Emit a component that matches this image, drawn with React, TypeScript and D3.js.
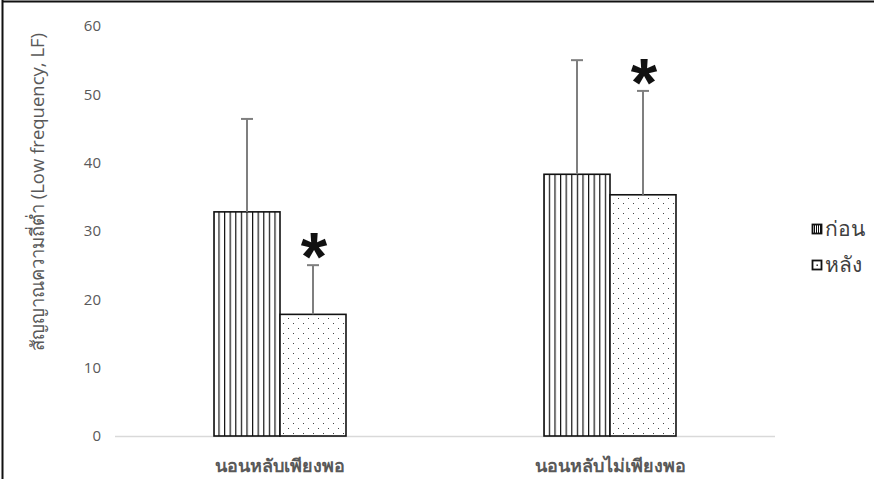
import * as d3 from 'd3';
import React, { useEffect, useRef } from 'react';

// values
const categories = ['นอนหลับเพียงพอ', 'นอนหลับไม่เพียงพอ'];
const seriesNames = ['ก่อน', 'หลัง'];
const beforeValues = [32.8, 38.3];
const afterValues = [17.8, 35.3];
const beforeErrors = [13.6, 16.7];
const afterErrors = [7.2, 15.2];
const significant = [true, true]; // asterisk on the "after" bar
const yTicks = [0, 10, 20, 30, 40, 50, 60];

const W = 874;
const H = 479;

export default function App() {
  const svgRef = useRef<SVGSVGElement>(null);

  useEffect(() => {
    if (!svgRef.current) return;
    const svg = d3.select(svgRef.current);
    svg.selectAll('*').remove();

    const plot = { left: 115, right: 775, top: 26, bottom: 436 };
    const font = "'Open Sans', 'DejaVu Sans', sans-serif";

    const x0 = d3.scaleBand().domain(categories).range([plot.left, plot.right]).paddingInner(0.6).paddingOuter(0.3);
    const x1 = d3.scaleBand().domain(seriesNames).range([0, x0.bandwidth()]);
    const y = d3.scaleLinear().domain([0, 60]).range([plot.bottom, plot.top]);

    const defs = svg.append('defs');
    const stripes = defs.append('pattern').attr('id', 'stripes')
      .attr('patternUnits', 'userSpaceOnUse').attr('width', 5.6).attr('height', 10);
    stripes.append('rect').attr('width', 5.6).attr('height', 10).attr('fill', '#fff');
    stripes.append('rect').attr('x', 0).attr('width', 1.2).attr('height', 10).attr('fill', '#111');

    const dots = defs.append('pattern').attr('id', 'dots')
      .attr('patternUnits', 'userSpaceOnUse').attr('width', 10).attr('height', 10);
    dots.append('rect').attr('width', 10).attr('height', 10).attr('fill', '#fff');
    dots.append('rect').attr('x', 3).attr('y', 3).attr('width', 1).attr('height', 1).attr('fill', '#444');
    dots.append('rect').attr('x', 8).attr('y', 8).attr('width', 1).attr('height', 1).attr('fill', '#444');

    const stripesSmall = defs.append('pattern').attr('id', 'stripes-small')
      .attr('patternUnits', 'userSpaceOnUse').attr('width', 2).attr('height', 10);
    stripesSmall.append('rect').attr('width', 2).attr('height', 10).attr('fill', '#111');
    stripesSmall.append('rect').attr('x', 1).attr('width', 1).attr('height', 10).attr('fill', '#fff');

    // frame around the picture
    svg.append('line').attr('x1', 2).attr('x2', W).attr('y1', 1.5).attr('y2', 1.5)
      .attr('stroke', '#111').attr('stroke-width', 2);
    svg.append('line').attr('x1', 2.5).attr('x2', 2.5).attr('y1', 0).attr('y2', H)
      .attr('stroke', '#111').attr('stroke-width', 2);

    // y tick labels
    svg.append('g').selectAll('text').data(yTicks).join('text')
      .attr('x', 101).attr('y', d => y(d)).attr('dy', '0.35em')
      .attr('text-anchor', 'end').attr('font-family', font).attr('font-size', 15)
      .attr('fill', '#595959').text(d => d);

    // baseline
    svg.append('line').attr('x1', plot.left).attr('x2', plot.right)
      .attr('y1', plot.bottom + 0.5).attr('y2', plot.bottom + 0.5)
      .attr('stroke', '#d9d9d9').attr('stroke-width', 1.5);

    const series = [
      { name: seriesNames[0], values: beforeValues, errors: beforeErrors, fill: 'url(#stripes)' },
      { name: seriesNames[1], values: afterValues, errors: afterErrors, fill: 'url(#dots)' },
    ];

    series.forEach(s => {
      const g = svg.append('g');
      g.selectAll('rect').data(categories).join('rect')
        .attr('x', c => (x0(c) || 0) + (x1(s.name) || 0))
        .attr('y', (c, i) => y(s.values[i]))
        .attr('width', x1.bandwidth())
        .attr('height', (c, i) => y(0) - y(s.values[i]))
        .attr('fill', s.fill)
        .attr('stroke', '#111').attr('stroke-width', 1.6);
    });

    // error bars (upper only)
    series.forEach(s => {
      categories.forEach((c, i) => {
        const cx = (x0(c) || 0) + (x1(s.name) || 0) + x1.bandwidth() / 2;
        const top = y(s.values[i] + s.errors[i]);
        svg.append('line').attr('x1', cx).attr('x2', cx)
          .attr('y1', y(s.values[i])).attr('y2', top)
          .attr('stroke', '#7f7f7f').attr('stroke-width', 2);
        svg.append('line').attr('x1', cx - 6).attr('x2', cx + 6)
          .attr('y1', top).attr('y2', top)
          .attr('stroke', '#7f7f7f').attr('stroke-width', 2);
        if (s.name === seriesNames[1] && significant[i]) {
          svg.append('text').attr('x', cx + 1).attr('y', top + 15)
            .attr('text-anchor', 'middle').attr('font-family', "'Liberation Sans', Arial, sans-serif")
            .attr('font-weight', 'bold').attr('font-size', 68).attr('fill', '#111').text('*');
        }
      });
    });

    // category labels
    svg.append('g').selectAll('text').data(categories).join('text')
      .attr('x', c => (x0(c) || 0) + x0.bandwidth() / 2).attr('y', 472)
      .attr('text-anchor', 'middle').attr('font-family', font).attr('font-weight', 'bold')
      .attr('font-size', 18).attr('fill', '#595959').text(c => c);

    // y axis title
    svg.append('text').attr('transform', 'translate(44,192) rotate(-90)')
      .attr('text-anchor', 'middle').attr('font-family', font).attr('font-size', 18.5)
      .attr('fill', '#595959').text('สัญญาณความถี่ต่ำ (Low frequency, LF)');

    // legend
    const legend = svg.append('g');
    const swatchFill = ['url(#stripes-small)', '#fff'];
    seriesNames.forEach((n, i) => {
      const ly = 224 + i * 36;
      legend.append('rect').attr('x', 812.5).attr('y', ly + 0.5).attr('width', 9).attr('height', 9)
        .attr('fill', swatchFill[i]).attr('stroke', '#111').attr('stroke-width', 1.8);
      if (i === 1) {
        legend.append('rect').attr('x', 816.5).attr('y', ly + 4.5).attr('width', 1.4).attr('height', 1.4).attr('fill', '#111');
      }
      legend.append('text').attr('x', 825).attr('y', ly + 12).attr('font-family', font)
        .attr('font-size', 21).attr('fill', '#404040').text(n);
    });
  }, []);

  return (
    <div style={{ position: 'fixed', left: 0, top: 0, width: W, height: H, background: '#fff' }}>
      <svg ref={svgRef} width={W} height={H} />
    </div>
  );
}
